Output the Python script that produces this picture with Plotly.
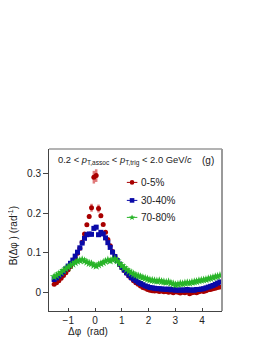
import plotly.graph_objects as go

dphi = [-1.5272, -1.4399, -1.3526, -1.2654, -1.1781, -1.0908, -1.0036, -0.9163, -0.8290, -0.7418,
        -0.6545, -0.5672, -0.4800, -0.3927, -0.3054, -0.2182, -0.1309, -0.0436, 0.0436, 0.1309,
        0.2182, 0.3054, 0.3927, 0.4800, 0.5672, 0.6545, 0.7418, 0.8290, 0.9163, 1.0036,
        1.0908, 1.1781, 1.2654, 1.3526, 1.4399, 1.5272, 1.6144, 1.7017, 1.7890, 1.8762,
        1.9635, 2.0508, 2.1380, 2.2253, 2.3126, 2.3998, 2.4871, 2.5744, 2.6616, 2.7489,
        2.8362, 2.9234, 3.0107, 3.0980, 3.1852, 3.2725, 3.3598, 3.4470, 3.5343, 3.6216,
        3.7088, 3.7961, 3.8834, 3.9706, 4.0579, 4.1452, 4.2324, 4.3197, 4.4070, 4.4942,
        4.5815, 4.6688]

b_0_5 = [0.021, 0.025, 0.030, 0.036, 0.043, 0.050, 0.058, 0.066, 0.076, 0.087,
         0.099, 0.112, 0.127, 0.148, 0.171, 0.192, 0.214, 0.291, 0.295, 0.212,
         0.194, 0.172, 0.152, 0.134, 0.118, 0.104, 0.092, 0.081, 0.071, 0.063,
         0.056, 0.049, 0.042, 0.036, 0.030, 0.025, 0.021, 0.017, 0.013, 0.011,
         0.008, 0.006, 0.005, 0.004, 0.005, 0.003, 0.004, 0.002, 0.003, 0.001,
         0.002, 0.000, 0.002, 0.001, -0.001, 0.001, 0.000, 0.002, -0.003, 0.000,
         0.001, 0.000, 0.002, 0.004, 0.003, 0.005, 0.007, 0.008, 0.010, 0.011,
         0.013, 0.014]
err_0_5 = [0.002] * 14 + [0.004, 0.006, 0.010, 0.016, 0.016, 0.010, 0.006, 0.004] + [0.002] * 50

b_30_40 = [0.033, 0.037, 0.042, 0.047, 0.053, 0.060, 0.067, 0.074, 0.082, 0.092,
           0.102, 0.113, 0.125, 0.137, 0.146, 0.148, 0.147, 0.162, 0.165, 0.146,
           0.152, 0.148, 0.138, 0.126, 0.114, 0.102, 0.091, 0.081, 0.072, 0.064,
           0.057, 0.050, 0.044, 0.038, 0.034, 0.030, 0.026, 0.023, 0.020, 0.017,
           0.015, 0.013, 0.012, 0.011, 0.010, 0.010, 0.009, 0.009, 0.008, 0.009,
           0.007, 0.008, 0.006, 0.007, 0.006, 0.007, 0.006, 0.008, 0.006, 0.007,
           0.006, 0.008, 0.008, 0.009, 0.010, 0.012, 0.014, 0.016, 0.018, 0.021,
           0.024, 0.027]
err_30_40 = [0.002] * 14 + [0.003, 0.004, 0.005, 0.006, 0.006, 0.005, 0.004, 0.003] + [0.002] * 50

b_70_80 = [0.040, 0.043, 0.047, 0.051, 0.056, 0.060, 0.064, 0.068, 0.072, 0.076,
           0.079, 0.081, 0.083, 0.080, 0.077, 0.074, 0.073, 0.069, 0.067, 0.070,
           0.073, 0.076, 0.079, 0.082, 0.080, 0.083, 0.085, 0.080, 0.073, 0.068,
           0.063, 0.058, 0.054, 0.050, 0.047, 0.044, 0.042, 0.040, 0.038, 0.036,
           0.034, 0.032, 0.031, 0.030, 0.029, 0.030, 0.028, 0.027, 0.026, 0.027,
           0.024, 0.022, 0.020, 0.021, 0.023, 0.022, 0.024, 0.025, 0.024, 0.026,
           0.027, 0.028, 0.030, 0.031, 0.032, 0.033, 0.035, 0.036, 0.038, 0.040,
           0.041, 0.043]
err_70_80 = [0.002] * 72

series_names = ["0-5%", "30-40%", "70-80%"]
x_ticks = [-1, 0, 1, 2, 3, 4]
y_ticks = [0, 0.1, 0.2, 0.3]
y_tick_labels = ["0", "0.1", "0.2", "0.3"]

colors = ["#a80000", "#0a0aa8", "#28b428"]
err_colors = ["rgba(215,80,80,0.75)", "rgba(90,90,220,0.7)", "rgba(90,200,90,0.7)"]
symbols = ["circle", "square", "star"]
sizes = [5, 5, 6.5]

fig = go.Figure()
for y, e, name, c, ec, s, sz in zip([b_0_5, b_30_40, b_70_80], [err_0_5, err_30_40, err_70_80],
                                    series_names, colors, err_colors, symbols, sizes):
    fig.add_trace(go.Scatter(
        x=dphi, y=y, mode="markers", name=name, showlegend=False,
        marker=dict(symbol=s, size=sz, color=c, line=dict(width=0)),
        error_y=dict(type="data", array=e, visible=True, color=ec, thickness=2.5, width=0),
    ))

FONT = "Liberation Sans, Arial, sans-serif"
OFF = 8  # page body margin
FW, FH = 266 - OFF, 344 - OFF
L, R, T, B = 49.3 - OFF, 222.0 - OFF, 149.3 - OFF, 311.3 - OFF
W, H = R - L, B - T

def px(xp):
    return (xp - OFF - L) / W

def py(yp):
    return (B - (yp - OFF)) / H

shapes = []
annotations = []
shapes.append(dict(type="line", xref="paper", yref="paper", x0=0, x1=1, y0=1, y1=1,
                   line=dict(color="#9a9a9a", width=1.5)))
shapes.append(dict(type="line", xref="paper", yref="paper", x0=1, x1=1, y0=0, y1=1,
                   line=dict(color="#9a9a9a", width=2)))

rows = [182.7, 200.7, 217.7]
for i, name in enumerate(series_names):
    yy = py(rows[i])
    shapes.append(dict(type="line", xref="paper", yref="paper", x0=px(127), x1=px(137.5), y0=yy, y1=yy,
                       line=dict(color=colors[i], width=1)))
    xc = px(132.2)
    if symbols[i] == "circle":
        shapes.append(dict(type="circle", xref="paper", yref="paper", xsizemode="pixel", ysizemode="pixel",
                           xanchor=xc, yanchor=yy, x0=-2.3, x1=2.3, y0=-2.3, y1=2.3,
                           fillcolor=colors[i], line=dict(width=0)))
    elif symbols[i] == "square":
        shapes.append(dict(type="rect", xref="paper", yref="paper", xsizemode="pixel", ysizemode="pixel",
                           xanchor=xc, yanchor=yy, x0=-2.3, x1=2.3, y0=-2.3, y1=2.3,
                           fillcolor=colors[i], line=dict(width=0)))
    else:
        shapes.append(dict(type="path", xref="paper", yref="paper", xsizemode="pixel", ysizemode="pixel",
                           xanchor=xc, yanchor=yy,
                           path="M 0 3 L 0.9 0.9 L 3 0.9 L 1.3 -0.4 L 1.9 -2.6 L 0 -1.3 L -1.9 -2.6 L -1.3 -0.4 L -3 0.9 L -0.9 0.9 Z",
                           fillcolor=colors[i], line=dict(width=0)))
    annotations.append(dict(text=name, xref="paper", yref="paper", x=px(139.5), y=yy,
                            xanchor="left", yanchor="middle", showarrow=False,
                            font=dict(family=FONT, size=10, color="#222")))

annotations.append(dict(
    text="0.2 < <i>p</i><sub>T,assoc</sub> < <i>p</i><sub>T,trig</sub> < 2.0 GeV/<i>c</i>",
    xref="paper", yref="paper", x=px(56.5), y=py(160.5), xanchor="left", yanchor="middle",
    showarrow=False, font=dict(family=FONT, size=9.4, color="#222")))
annotations.append(dict(text="(g)", xref="paper", yref="paper", x=px(208.5), y=py(160.5),
                        xanchor="center", yanchor="middle", showarrow=False,
                        font=dict(family=FONT, size=10, color="#222")))
annotations.append(dict(text="B(Δφ ) (rad<sup>-1</sup>)", xref="paper", yref="paper",
                        x=px(13), y=py(236), xanchor="center", yanchor="middle", textangle=-90,
                        showarrow=False, font=dict(family=FONT, size=10, color="#222")))
annotations.append(dict(text="Δφ  (rad)", xref="paper", yref="paper",
                        x=px(88.7), y=py(332), xanchor="center", yanchor="middle",
                        showarrow=False, font=dict(family=FONT, size=10, color="#222")))

fig.update_layout(
    width=FW, height=FH,
    margin=dict(l=L, r=FW - R, t=T, b=FH - B, pad=0),
    paper_bgcolor="white", plot_bgcolor="white",
    showlegend=False,
    shapes=shapes, annotations=annotations,
    font=dict(family=FONT, size=10, color="#222"),
)
fig.update_xaxes(range=[-1.72, 4.745], tickvals=x_ticks, ticks="inside", ticklen=3, tickcolor="#444",
                 showline=True, linecolor="#444", linewidth=1, showgrid=False, zeroline=False,
                 tickfont=dict(family=FONT, size=10, color="#222"))
fig.update_yaxes(range=[-0.0463, 0.3621], tickvals=y_ticks, ticktext=y_tick_labels, ticks="outside",
                 ticklen=5, tickcolor="#444", showline=True, linecolor="#444", linewidth=1,
                 showgrid=False, zeroline=False, tickfont=dict(family=FONT, size=10, color="#222"))

fig.write_html("out.html")
